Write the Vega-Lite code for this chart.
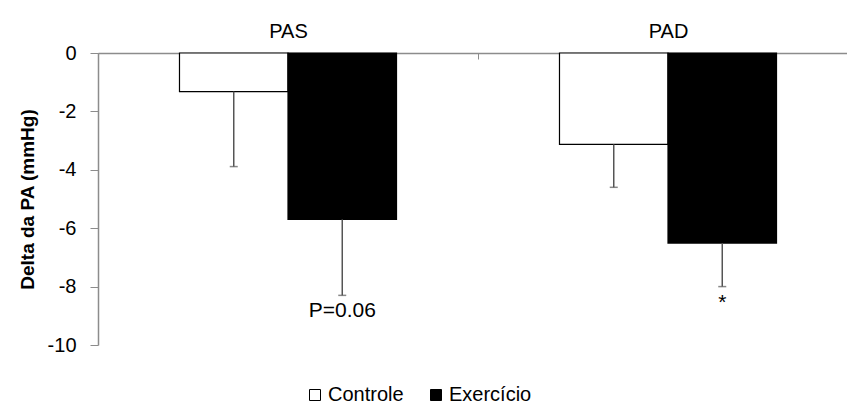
{
  "$schema": "https://vega.github.io/schema/vega-lite/v6.json",
  "width": 749,
  "height": 292,
  "autosize": "none",
  "padding": {"left": 98, "top": 53, "right": 0, "bottom": 59},
  "config": {"view": {"stroke": null}, "font": "Liberation Sans"},
  "data": {
    "values": [
      {"grupo": "PAS", "condicao": "Controle", "delta": -1.32, "erro": -3.89, "nota": ""},
      {"grupo": "PAS", "condicao": "Exercício", "delta": -5.70, "erro": -8.30, "nota": "P=0.06"},
      {"grupo": "PAD", "condicao": "Controle", "delta": -3.13, "erro": -4.60, "nota": ""},
      {"grupo": "PAD", "condicao": "Exercício", "delta": -6.51, "erro": -8.00, "nota": "*"}
    ]
  },
  "encoding": {
    "x": {
      "field": "grupo",
      "type": "nominal",
      "sort": ["PAS", "PAD"],
      "scale": {"range": [0, 760], "paddingInner": 0, "paddingOuter": 0},
      "axis": {
        "orient": "top",
        "title": null,
        "labelAngle": 0,
        "labelFontSize": 20,
        "labelColor": "black",
        "labelPadding": 18,
        "domainColor": "#8c8c8c",
        "domainWidth": 1.5,
        "tickColor": "#8c8c8c",
        "tickBand": "extent",
        "tickSize": -6
      }
    },
    "xOffset": {
      "field": "condicao",
      "type": "nominal",
      "sort": ["Controle", "Exercício"],
      "scale": {"paddingInner": 0, "paddingOuter": 0.751}
    }
  },
  "layer": [
    {
      "mark": {"type": "bar", "stroke": "black", "strokeWidth": 1.2},
      "encoding": {
        "y": {
          "field": "delta",
          "type": "quantitative",
          "scale": {"domain": [-10, 0], "nice": false},
          "axis": {
            "values": [-10, -8, -6, -4, -2, 0],
            "labelExpr": "toString(datum.value)",
            "grid": false,
            "title": "Delta da PA (mmHg)",
            "titleFontSize": 19,
            "titleFontWeight": "bold",
            "titleColor": "black",
            "titlePadding": 10,
            "labelFontSize": 20,
            "labelColor": "black",
            "labelPadding": 14,
            "tickSize": 8,
            "tickColor": "#8c8c8c",
            "domainColor": "#8c8c8c",
            "domainWidth": 1.5
          }
        },
        "color": {
          "field": "condicao",
          "type": "nominal",
          "scale": {"domain": ["Controle", "Exercício"], "range": ["white", "black"]},
          "legend": {
            "title": null,
            "orient": "none",
            "legendX": 207,
            "legendY": 332,
            "direction": "horizontal",
            "symbolType": "square",
            "symbolSize": 121,
            "symbolStrokeColor": "black",
            "symbolStrokeWidth": 1,
            "labelFontSize": 20,
            "labelColor": "black",
            "labelOffset": 3,
            "columnPadding": 22,
            "padding": 0
          }
        }
      }
    },
    {
      "mark": {"type": "rule", "color": "#555555", "strokeWidth": 1.5},
      "encoding": {
        "y": {"field": "delta", "type": "quantitative"},
        "y2": {"field": "erro"}
      }
    },
    {
      "mark": {"type": "tick", "color": "#555555", "size": 8, "thickness": 1.5},
      "encoding": {
        "y": {"field": "erro", "type": "quantitative"}
      }
    },
    {
      "mark": {"type": "text", "baseline": "top", "dy": 5, "fontSize": 21, "color": "black"},
      "encoding": {
        "y": {"field": "erro", "type": "quantitative"},
        "text": {"field": "nota"}
      }
    }
  ]
}
